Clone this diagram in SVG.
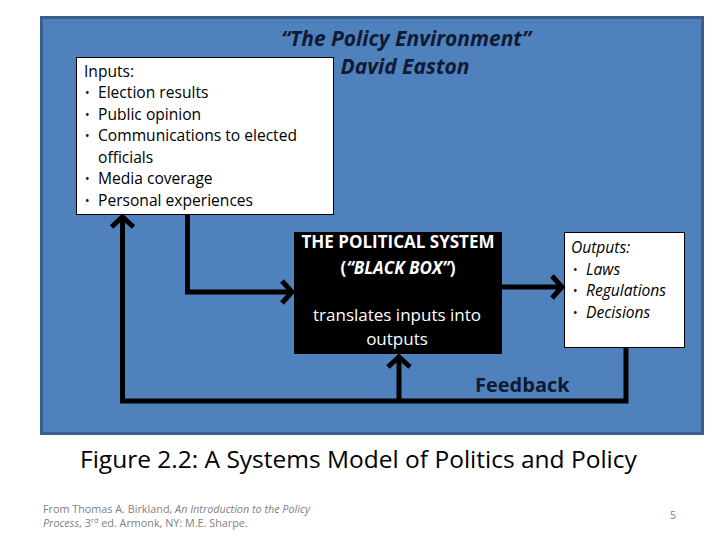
<svg xmlns="http://www.w3.org/2000/svg" width="720" height="540" viewBox="0 0 720 540">
<style>
.t{font-family:"Open Sans","Noto Sans","Liberation Sans",sans-serif}
.box{fill:#fff;stroke:#000;stroke-width:1}
.ln{fill:none;stroke:#000;stroke-width:5;stroke-linejoin:miter}
.hd{fill:none;stroke:#000;stroke-width:5;stroke-linejoin:miter;stroke-linecap:butt}
.navy{fill:#111a33;font-weight:bold;font-style:italic}
.inp{font-size:15.6px;fill:#000}
.wt{fill:#fff;font-size:17px}
.gr{fill:#7f7f7f;font-size:10.8px}
.bl{font-size:12px}
</style>
<rect width="720" height="540" fill="#fff"/>
<g id="environment">
<rect x="41.5" y="17.5" width="661" height="416" fill="#4f81bd" stroke="#3a5f8c" stroke-width="3"/>
<text class="t navy" x="406" y="46" font-size="21" text-anchor="middle">“The Policy Environment”</text>
<text class="t navy" x="405" y="74" font-size="21" text-anchor="middle">David Easton</text>
</g>
<g id="inputs">
<rect class="box" x="76.5" y="57.5" width="257" height="157"/>
<text class="t inp" x="84" y="77">Inputs:</text>
<g class="t inp">
<text class="bl" x="85" y="97">•</text><text x="98" y="98">Election results</text>
<text class="bl" x="85" y="119">•</text><text x="98" y="120">Public opinion</text>
<text class="bl" x="85" y="140">•</text><text x="98" y="141">Communications to elected</text>
<text x="98" y="163">officials</text>
<text class="bl" x="85" y="183">•</text><text x="98" y="184">Media coverage</text>
<text class="bl" x="85" y="205">•</text><text x="98" y="206">Personal experiences</text>
</g>
</g>
<g id="political-system">
<rect x="294" y="232" width="208" height="122" fill="#000"/>
<text class="t wt" x="398" y="248" text-anchor="middle" font-weight="bold">THE POLITICAL SYSTEM</text>
<text class="t wt" x="398" y="274" text-anchor="middle" font-weight="bold">(<tspan font-style="italic">“BLACK BOX”</tspan>)</text>
<text class="t wt" x="397" y="321" text-anchor="middle">translates inputs into</text>
<text class="t wt" x="397" y="345" text-anchor="middle">outputs</text>
</g>
<g id="outputs">
<rect class="box" x="564.5" y="232.5" width="120" height="115"/>
<g class="t inp" font-style="italic">
<text x="571" y="253">Outputs:</text>
<text class="bl" x="573" y="274" font-style="normal">•</text><text x="586" y="275">Laws</text>
<text class="bl" x="573" y="295" font-style="normal">•</text><text x="586" y="296">Regulations</text>
<text class="bl" x="573" y="317" font-style="normal">•</text><text x="586" y="318">Decisions</text>
</g>
</g>
<g id="connectors">
<polyline class="ln" points="187.5,214 187.5,292 291,292"/>
<polyline class="hd" points="282,281 292,292 282,303"/>
<line class="ln" x1="502" y1="287" x2="561" y2="287"/>
<polyline class="hd" points="552,276 562,287 552,298"/>
<polyline class="ln" points="626,347 626,401 122.5,401 122.5,217"/>
<polyline class="hd" points="111.5,227 122.5,217 133.5,227"/>
<line class="ln" x1="399" y1="401" x2="399" y2="357"/>
<polyline class="hd" points="388,367 399,357 410,367"/>
</g>
<g id="feedback-label">
<text class="t" x="475" y="392" font-size="20" font-weight="bold" fill="#111a33">Feedback</text>
</g>
<g id="caption">
<text class="t" x="80" y="468" font-size="24.5" fill="#000">Figure 2.2: A Systems Model of Politics and Policy</text>
<text class="t gr" x="43" y="513">From Thomas A. Birkland, <tspan font-style="italic">An Introduction to the Policy</tspan></text>
<text class="t gr" x="43" y="527"><tspan font-style="italic">Process</tspan>, 3<tspan font-size="7.5" dy="-4">rd</tspan><tspan dy="4"> ed. Armonk, NY: M.E. Sharpe.</tspan></text>
<text class="t gr" x="673" y="519" text-anchor="middle" font-size="11">5</text>
</g>
</svg>
